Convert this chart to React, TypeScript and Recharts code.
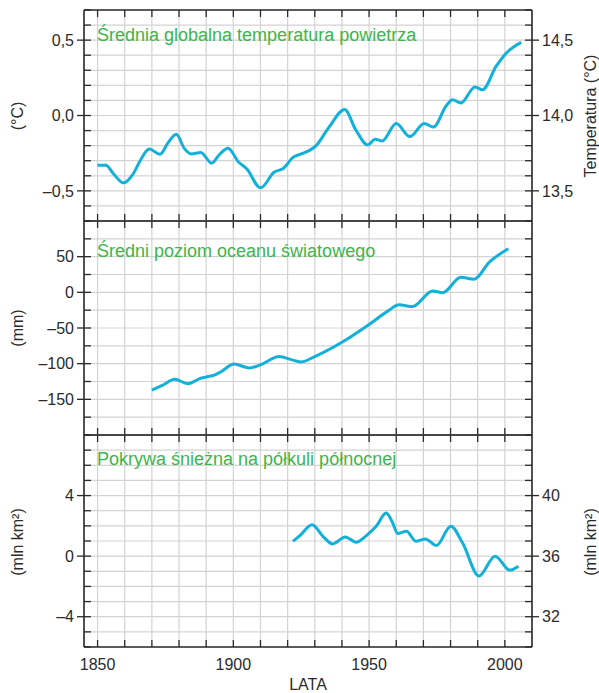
import { LineChart, Line, XAxis, YAxis, CartesianGrid } from "recharts";

// ---- data ----
const tempYears = [
  1850, 1853, 1856, 1859.5, 1863, 1866, 1869, 1873, 1876, 1879, 1882, 1884.5,
  1888, 1892, 1895, 1898, 1902, 1905, 1910, 1915, 1918.5, 1922, 1925, 1930.5,
  1935.5, 1941, 1945, 1949.5, 1952.3, 1954.8, 1960, 1965, 1970.3, 1973.7,
  1978.3, 1980.7, 1983.8, 1989, 1991.8, 1996.7, 2000.4, 2006,
];
const tempAnomaly = [
  -0.33, -0.33, -0.39, -0.447, -0.39, -0.29, -0.222, -0.257, -0.18, -0.125,
  -0.22, -0.255, -0.245, -0.316, -0.257, -0.217, -0.31, -0.355, -0.48, -0.377,
  -0.35, -0.278, -0.255, -0.2, -0.07, 0.04, -0.092, -0.195, -0.158, -0.169,
  -0.053, -0.14, -0.053, -0.077, 0.061, 0.105, 0.083, 0.189, 0.171, 0.324,
  0.412, 0.485,
];

const seaYears = [
  1870, 1874, 1878.4, 1883.3, 1887.6, 1890.2, 1893, 1895.6, 1900.2, 1906,
  1909.7, 1917, 1921, 1925, 1930, 1940, 1950, 1957, 1961, 1966, 1973.4,
  1977.1, 1983.8, 1988.7, 1994.2, 2001.3,
];
const seaLevel = [
  -137, -130, -122, -128, -121, -118.5, -116, -111, -100.5, -106, -102, -90,
  -94, -97.5, -90, -70, -45, -26, -17.5, -20, 2, -0.5, 21, 18.5, 42, 61,
];

const snowYears = [
  1922, 1924.5, 1929, 1933, 1936.6, 1941.2, 1945.2, 1949, 1952.6, 1956.3,
  1958.7, 1960.5, 1963.8, 1967.2, 1970.7, 1974.8, 1980.1, 1984.4, 1990.5,
  1996.4, 2001.8, 2005,
];
const snowAnomaly = [
  0.98, 1.35, 2.08, 1.31, 0.81, 1.27, 0.92, 1.36, 1.97, 2.85, 2.19, 1.49, 1.64,
  0.98, 1.14, 0.7, 1.97, 0.88, -1.31, 0.0, -0.92, -0.66,
];

// ---- ticks ----
const yearTicks = [
  1850, 1860, 1870, 1880, 1890, 1900, 1910, 1920, 1930, 1940, 1950, 1960, 1970,
  1980, 1990, 2000,
];
const yearLabels = [1850, 1900, 1950, 2000];

const tempTicks = [
  -0.7, -0.6, -0.5, -0.4, -0.3, -0.2, -0.1, 0, 0.1, 0.2, 0.3, 0.4, 0.5, 0.6,
  0.7,
];
const tempLabels = [-0.5, 0, 0.5];
const absTempTicks = [
  13.3, 13.4, 13.5, 13.6, 13.7, 13.8, 13.9, 14.0, 14.1, 14.2, 14.3, 14.4, 14.5,
  14.6, 14.7,
];
const absTempLabels = [13.5, 14.0, 14.5];

const seaTicks = [-200, -175, -150, -125, -100, -75, -50, -25, 0, 25, 50, 75, 100];
const seaLabels = [-150, -100, -50, 0, 50];

const snowTicks = [-6, -5, -4, -3, -2, -1, 0, 1, 2, 3, 4, 5, 6, 7, 8];
const snowLabels = [-4, 0, 4];
const snowAbsTicks = [30, 31, 32, 33, 34, 35, 36, 37, 38, 39, 40, 41, 42, 43, 44];
const snowAbsLabels = [32, 36, 40];

const toRows = (xs: number[], ys: number[]) =>
  xs.map((year, i) => ({ year, v: ys[i] }));

const FONT = '"Liberation Sans", Arial, Helvetica, sans-serif';
const INK = "#2b2b2b";
const LINE = "#13b0da";
const GREEN = "#3cb54a";
const GRID = "#d3d3d3";

const fmtDec = (v: number) => v.toFixed(1).replace(".", ",").replace("-", "–");
const fmtInt = (v: number) => String(v).replace("-", "–");

const isIn = (list: number[], v: number) =>
  list.some((l) => Math.abs(l - v) < 1e-6);

const yTick =
  (side: "left" | "right", labels: number[], fmt: (v: number) => string) =>
  (props: any) => {
    const { x, y, payload } = props;
    const v = payload.value;
    const major = isIn(labels, v);
    const d = side === "left" ? 1 : -1;
    return (
      <g>
        <line
          x1={major ? x - d * 7 : x}
          x2={x + d * 7}
          y1={y}
          y2={y}
          stroke={INK}
          strokeWidth={1.3}
        />
        {major && (
          <text
            x={x - d * 10}
            y={y}
            dy="0.36em"
            textAnchor={side === "left" ? "end" : "start"}
            fontSize={16}
            fontFamily={FONT}
            fill={INK}
          >
            {fmt(v)}
          </text>
        )}
      </g>
    );
  };

const xTick = (side: "top" | "bottom", labels: number[]) => (props: any) => {
  const { x, y, payload } = props;
  const d = side === "bottom" ? -1 : 1;
  return (
    <g>
      <line x1={x} x2={x} y1={y} y2={y + d * 7} stroke={INK} strokeWidth={1.3} />
      {isIn(labels, payload.value) && (
        <text
          x={x}
          y={y + 23}
          textAnchor="middle"
          fontSize={16}
          fontFamily={FONT}
          fill={INK}
        >
          {payload.value}
        </text>
      )}
    </g>
  );
};

interface PanelProps {
  top: number;
  height: number;
  marginBottom: number;
  rows: { year: number; v: number }[];
  leftTicks: number[];
  leftLabels: number[];
  rightTicks: number[];
  rightLabels: number[];
  fmt: (v: number) => string;
  showYears: boolean;
}

const Panel = ({
  top,
  height,
  marginBottom,
  rows,
  leftTicks,
  leftLabels,
  rightTicks,
  rightLabels,
  fmt,
  showYears,
}: PanelProps) => {
  const axisLine = { stroke: INK, strokeWidth: 1.6 };
  return (
    <div style={{ position: "absolute", left: 0, top }}>
      <LineChart
        width={599}
        height={height}
        data={rows}
        margin={{ top: 9, right: 0, bottom: marginBottom, left: 0 }}
      >
        <CartesianGrid stroke={GRID} strokeWidth={1.2} xAxisId="b" yAxisId="l" />
        <XAxis
          xAxisId="b"
          dataKey="year"
          type="number"
          domain={[1845, 2010]}
          allowDataOverflow
          ticks={yearTicks}
          interval={0}
          height={1}
          tickSize={0}
          tickMargin={0}
          tickLine={false}
          axisLine={axisLine}
          tick={xTick("bottom", showYears ? yearLabels : [])}
        />
        <XAxis
          xAxisId="t"
          orientation="top"
          dataKey="year"
          type="number"
          domain={[1845, 2010]}
          allowDataOverflow
          ticks={yearTicks}
          interval={0}
          height={1}
          tickSize={0}
          tickMargin={0}
          tickLine={false}
          axisLine={axisLine}
          tick={xTick("top", [])}
        />
        <YAxis
          yAxisId="l"
          type="number"
          domain={[leftTicks[0], leftTicks[leftTicks.length - 1]]}
          allowDataOverflow
          ticks={leftTicks}
          interval={0}
          width={84}
          tickSize={0}
          tickMargin={0}
          tickLine={false}
          axisLine={axisLine}
          tick={yTick("left", leftLabels, fmt)}
        />
        <YAxis
          yAxisId="r"
          orientation="right"
          type="number"
          domain={[rightTicks[0], rightTicks[rightTicks.length - 1]]}
          allowDataOverflow
          ticks={rightTicks}
          interval={0}
          width={67}
          tickSize={0}
          tickMargin={0}
          tickLine={false}
          axisLine={axisLine}
          tick={yTick("right", rightLabels, fmt)}
        />
        <Line
          xAxisId="b"
          yAxisId="l"
          dataKey="v"
          type="monotone"
          stroke={LINE}
          strokeWidth={3}
          dot={false}
          isAnimationActive={false}
        />
      </LineChart>
    </div>
  );
};

export default function App() {
  const txt = { fontFamily: FONT, fontSize: 16, fill: INK };
  const title = { fontFamily: FONT, fontSize: 18, fill: GREEN };
  return (
    <div
      style={{
        position: "absolute",
        left: 0,
        top: 0,
        width: 599,
        height: 693,
        background: "#fff",
      }}
    >
      <Panel
        top={0}
        height={231}
        marginBottom={9}
        rows={toRows(tempYears, tempAnomaly)}
        leftTicks={tempTicks}
        leftLabels={tempLabels}
        rightTicks={absTempTicks}
        rightLabels={absTempLabels}
        fmt={fmtDec}
        showYears={false}
      />
      <Panel
        top={211}
        height={234}
        marginBottom={9}
        rows={toRows(seaYears, seaLevel)}
        leftTicks={seaTicks}
        leftLabels={seaLabels}
        rightTicks={seaTicks}
        rightLabels={[]}
        fmt={fmtInt}
        showYears={false}
      />
      <Panel
        top={425}
        height={268}
        marginBottom={45}
        rows={toRows(snowYears, snowAnomaly)}
        leftTicks={snowTicks}
        leftLabels={snowLabels}
        rightTicks={snowAbsTicks}
        rightLabels={snowAbsLabels}
        fmt={fmtInt}
        showYears={true}
      />
      <svg
        width={599}
        height={693}
        style={{ position: "absolute", left: 0, top: 0, pointerEvents: "none" }}
      >
        <text x={97} y={41} {...title}>
          Średnia globalna temperatura powietrza
        </text>
        <text x={97} y={257} {...title}>
          Średni poziom oceanu światowego
        </text>
        <text x={97} y={465} {...title}>
          Pokrywa śnieżna na półkuli północnej
        </text>
        <text x={17} y={116} transform="rotate(-90 17 116)" textAnchor="middle" dominantBaseline="central" {...txt}>
          (°C)
        </text>
        <text x={17} y={328} transform="rotate(-90 17 328)" textAnchor="middle" dominantBaseline="central" {...txt}>
          (mm)
        </text>
        <text x={17} y={542} transform="rotate(-90 17 542)" textAnchor="middle" dominantBaseline="central" {...txt}>
          (mln km²)
        </text>
        <text x={590} y={116} transform="rotate(-90 590 116)" textAnchor="middle" dominantBaseline="central" {...txt}>
          Temperatura (°C)
        </text>
        <text x={590} y={542} transform="rotate(-90 590 542)" textAnchor="middle" dominantBaseline="central" {...txt}>
          (mln km²)
        </text>
        <text x={308} y={690} textAnchor="middle" {...txt}>
          LATA
        </text>
      </svg>
    </div>
  );
}
